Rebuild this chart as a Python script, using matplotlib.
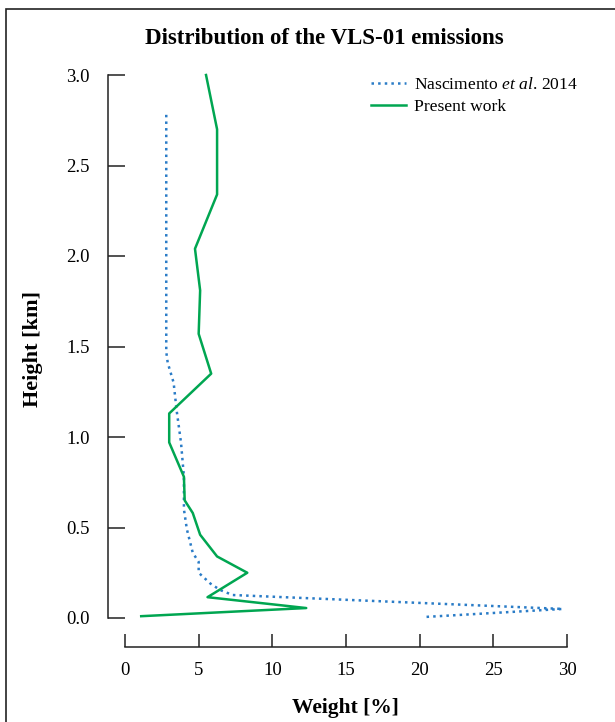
import matplotlib
matplotlib.use("Agg")
from matplotlib import pyplot as plt, patches

plt.rcParams['font.family'] = ['Liberation Serif', 'DejaVu Serif']
plt.rcParams['mathtext.fontset'] = 'custom'
plt.rcParams['mathtext.rm'] = 'Liberation Serif'
plt.rcParams['mathtext.it'] = 'Liberation Serif:italic'

# Nascimento et al. 2014 profile
ref_weight = [2.8, 2.8, 2.9, 3.3, 3.5, 3.8, 4.0, 4.0, 4.2, 4.6, 5.0, 5.0, 5.8, 6.45, 7.3, 29.7, 20.2]
ref_height = [2.78, 1.47, 1.41, 1.30, 1.15, 0.97, 0.78, 0.60, 0.49, 0.36, 0.31, 0.25, 0.19, 0.155, 0.127, 0.05, 0.005]

# present work profile
new_weight = [5.5, 6.25, 6.25, 4.75, 5.1, 5.0, 5.85, 3.0, 3.0, 4.0, 4.05, 4.6, 5.1, 6.25, 8.3, 5.6, 12.3, 1.1]
new_height = [3.0, 2.70, 2.34, 2.04, 1.81, 1.57, 1.35, 1.13, 0.97, 0.78, 0.65, 0.58, 0.46, 0.34, 0.25, 0.115, 0.055, 0.01]

x_ticks = [0, 5, 10, 15, 20, 25, 30]
y_ticks = [0.0, 0.5, 1.0, 1.5, 2.0, 2.5, 3.0]

W, H = 615, 722
fig = plt.figure(figsize=(W / 100, H / 100), dpi=100)

# axes box in pixel units (left, top, right, bottom)
left, top, right, bottom = 108, 70, 600, 618
ax = fig.add_axes([left / W, 1 - bottom / H, (right - left) / W, (bottom - top) / H])

px_per_w = (567 - 125) / 30
px_per_h = (618 - 75) / 3.0
ax.set_xlim(-(125 - left) / px_per_w, (right - 125) / px_per_w)
ax.set_ylim(0, (bottom - top) / px_per_h)

ax.plot(ref_weight, ref_height, linestyle=':', color='#2a7cc7', linewidth=1.8,
        label='Nascimento $\\it{et\\ al}$. 2014', clip_on=False)
ax.plot(new_weight, new_height, color='#00a651', linewidth=1.8, label='Present work', clip_on=False)

for side in ['top', 'right']:
    ax.spines[side].set_visible(False)
ax.spines['left'].set_bounds(0, 3)
ax.spines['bottom'].set_bounds(0, 30)
ax.spines['bottom'].set_position(('outward', 21))
for side in ['left', 'bottom']:
    ax.spines[side].set_linewidth(1.1)
    ax.spines[side].set_color('#222222')

ax.set_xticks(x_ticks)
ax.set_xticklabels([str(t) for t in x_ticks])
ax.set_yticks(y_ticks)
ax.set_yticklabels([f"{t:.1f}" for t in y_ticks])
ax.tick_params(axis='y', direction='in', length=12, width=1.1, pad=13, labelsize=13.5, color='#222222')
ax.tick_params(axis='x', direction='in', length=9.5, width=1.1, pad=11, labelsize=13.5, color='#222222')

ax.set_xlabel('Weight [%]', fontsize=15.5, fontweight='bold')
ax.xaxis.set_label_coords((345 - left) / (right - left), -(708 - bottom) / (bottom - top), transform=ax.transAxes)
ax.xaxis.label.set_va('center')
ax.set_ylabel('Height [km]', fontsize=16, fontweight='bold')
ax.yaxis.set_label_coords(-(left - 33) / (right - left), (bottom - 349) / (bottom - top), transform=ax.transAxes)
ax.yaxis.label.set_va('center')
fig.text(324 / W, 1 - 38 / H, 'Distribution of the VLS-01 emissions', ha='center', va='center',
         fontsize=16.5, fontweight='bold')

ax.legend(loc='upper left', bbox_to_anchor=(355 / W, 1 - 61 / H), bbox_transform=fig.transFigure,
          frameon=False, fontsize=12.6, handlelength=2.0, handletextpad=0.5, labelspacing=0.35)

# outer frame round the figure
frame = patches.Rectangle((6 / W, -0.05), 1.2, 1 - 9 / H + 0.05, transform=fig.transFigure,
                          fill=False, edgecolor='#222222', linewidth=1.2, clip_on=False)
fig.patches.append(frame)

fig.savefig('out.png', dpi=100)
